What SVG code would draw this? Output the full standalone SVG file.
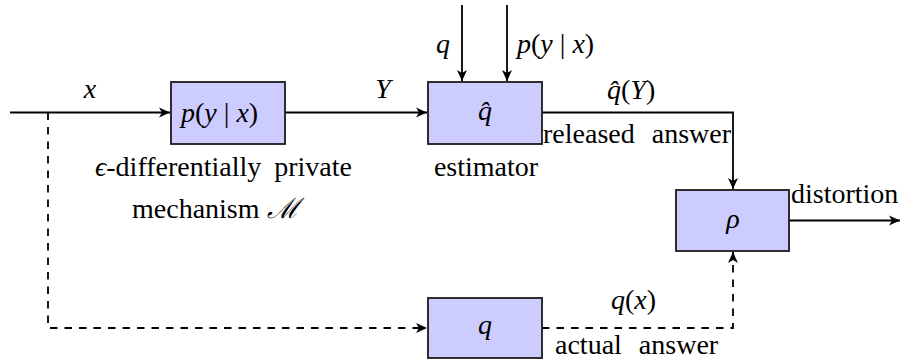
<svg xmlns="http://www.w3.org/2000/svg" width="906" height="362" viewBox="0 0 906 362">
<defs>
<marker id="ah" markerUnits="userSpaceOnUse" markerWidth="14" markerHeight="12" viewBox="-12 -6 14 12" refX="0" refY="0" orient="auto">
<path d="M0,0 L-11,-5 L-8,0 L-11,5 Z" fill="#000"/>
</marker>
</defs>
<rect width="906" height="362" fill="#fff"/>
<g id="connectors" fill="none" stroke="#000" stroke-width="1.8">
<path d="M10,112.5 H170" marker-end="url(#ah)"/>
<path d="M285,112.5 H427" marker-end="url(#ah)"/>
<path d="M462,5 V81" marker-end="url(#ah)"/>
<path d="M507,5 V81" marker-end="url(#ah)"/>
<path d="M542,112.5 H733 V189" marker-end="url(#ah)"/>
<path d="M789,220.5 H900" marker-end="url(#ah)"/>
<path stroke-dasharray="7.5 7" d="M48,112.5 V328 H427" marker-end="url(#ah)"/>
<path stroke-dasharray="7.5 7" d="M542,328 H733 V252" marker-end="url(#ah)"/>
</g>
<g id="labels" font-size="28" fill="#000">
<text style="font-family:'Liberation Serif',serif !important" font-style="italic" text-anchor="middle" x="90" y="98">x</text>
<text style="font-family:'Liberation Serif',serif !important" font-style="italic" text-anchor="middle" x="383" y="98">Y</text>
<text style="font-family:'Liberation Serif',serif !important" font-style="italic" x="436" y="53">q</text>
<text style="font-family:'Liberation Serif',serif !important" x="517" y="53"><tspan font-style="italic">p</tspan>(<tspan font-style="italic">y</tspan> | <tspan font-style="italic">x</tspan>)</text>
<text style="font-family:'Liberation Serif',serif !important" x="607" y="99"><tspan font-style="italic">q̂</tspan>(<tspan font-style="italic">Y</tspan>)</text>
<text style="font-family:'Liberation Serif',serif !important;word-spacing:10px" x="543" y="143">released answer</text>
<text style="font-family:'Liberation Serif',serif !important" x="791" y="203">distortion</text>
<text style="font-family:'Liberation Serif',serif !important" x="611" y="309"><tspan font-style="italic">q</tspan>(<tspan font-style="italic">x</tspan>)</text>
<text style="font-family:'Liberation Serif',serif !important;word-spacing:10px" x="555" y="354">actual answer</text>
</g>
<g id="mechanism" font-size="28">
<rect x="171" y="82" width="114" height="62" fill="#ccccff" stroke="#1a1a1a" stroke-width="1.8"/>
<text style="font-family:'Liberation Serif',serif !important" x="181" y="122"><tspan font-style="italic">p</tspan>(<tspan font-style="italic">y</tspan> | <tspan font-style="italic">x</tspan>)</text>
<text style="font-family:'Liberation Serif',serif !important;word-spacing:6px" x="95" y="176"><tspan font-style="italic">ϵ</tspan>-differentially private</text>
<text style="font-family:'Liberation Serif',serif !important" x="132" y="218">mechanism <tspan font-style="italic">ℳ</tspan></text>
</g>
<g id="estimator" font-size="28">
<rect x="428" y="82" width="114" height="62" fill="#ccccff" stroke="#1a1a1a" stroke-width="1.8"/>
<text style="font-family:'Liberation Serif',serif !important" font-style="italic" text-anchor="middle" x="485" y="120">q̂</text>
<text style="font-family:'Liberation Serif',serif !important" text-anchor="middle" x="486" y="176">estimator</text>
</g>
<g id="distortion-node" font-size="28">
<rect x="676" y="190" width="113" height="61" fill="#ccccff" stroke="#1a1a1a" stroke-width="1.8"/>
<text style="font-family:'Liberation Serif',serif !important" font-style="italic" text-anchor="middle" x="733" y="228">ρ</text>
</g>
<g id="query" font-size="28">
<rect x="428" y="298" width="114" height="60" fill="#ccccff" stroke="#1a1a1a" stroke-width="1.8"/>
<text style="font-family:'Liberation Serif',serif !important" font-style="italic" text-anchor="middle" x="485" y="334">q</text>
</g>
</svg>
